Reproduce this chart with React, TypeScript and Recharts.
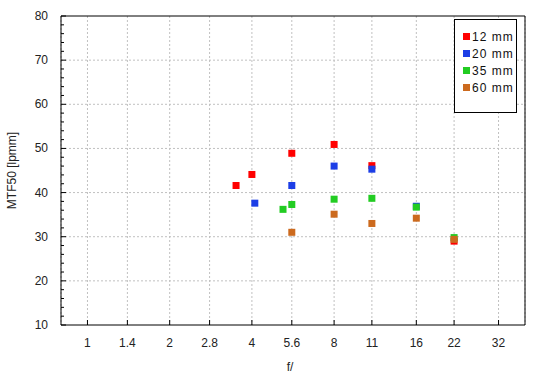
import {
  ScatterChart,
  Scatter,
  XAxis,
  YAxis,
  CartesianGrid,
  ReferenceArea,
  Legend,
} from 'recharts';

// ── data ──────────────────────────────────────────────────────────
const fTicks = [1, 1.4, 2, 2.8, 4, 5.6, 8, 11, 16, 22, 32];
const mtfTicks = [10, 12, 14, 16, 18, 20, 22, 24, 26, 28, 30, 32, 34, 36, 38, 40, 42, 44, 46, 48, 50, 52, 54, 56, 58, 60, 62, 64, 66, 68, 70, 72, 74, 76, 78, 80];
const mtfGrid = [20, 30, 40, 50, 60, 70];

const f12 = [3.5, 4, 5.6, 8, 11, 22];
const mtf12 = [41.6, 44.1, 48.9, 50.9, 46.1, 29.0];

const f20 = [4.1, 5.6, 8, 11, 16];
const mtf20 = [37.6, 41.6, 46.0, 45.3, 36.9];

const f35 = [5.2, 5.6, 8, 11, 16, 22];
const mtf35 = [36.2, 37.3, 38.5, 38.7, 36.7, 29.8];

const f60 = [5.6, 8, 11, 16, 22];
const mtf60 = [31.0, 35.1, 33.0, 34.2, 29.4];

const seriesNames = ['12 mm', '20 mm', '35 mm', '60 mm'];
const seriesColors = ['#ff0000', '#1c3ee6', '#22cc22', '#cc6a1e'];

const toPoints = (fs: number[], vs: number[]) => fs.map((f, i) => ({ f, mtf: vs[i] }));
const seriesData = [
  toPoints(f12, mtf12),
  toPoints(f20, mtf20),
  toPoints(f35, mtf35),
  toPoints(f60, mtf60),
];

const FONT = 'Arial, "Liberation Sans", sans-serif';

// ── custom pieces ─────────────────────────────────────────────────
function SquareDot(props: any) {
  const { cx, cy, fill } = props;
  if (cx == null || cy == null) return null;
  return <rect x={cx - 3.5} y={cy - 3.5} width={7} height={7} fill={fill} />;
}

function YTick({ x, y, payload }: any) {
  const major = payload.value % 10 === 0;
  return (
    <g>
      <line x1={x} y1={y} x2={x + (major ? 5 : 3)} y2={y} stroke="#000" />
      {major && (
        <text x={x - 13} y={y} textAnchor="end" dominantBaseline="central" fontSize={12} fill="#222" fontFamily={FONT}>
          {payload.value}
        </text>
      )}
    </g>
  );
}

function XTick({ x, y, payload }: any) {
  return (
    <g>
      <line x1={x} y1={y} x2={x} y2={y - 5} stroke="#000" />
      <text x={x} y={y + 18} textAnchor="middle" dominantBaseline="central" fontSize={12} fill="#222" fontFamily={FONT}>
        {payload.value}
      </text>
    </g>
  );
}

function LegendBox() {
  return (
    <div
      style={{
        border: '1px solid #000',
        background: '#fff',
        width: 61,
        height: 84,
        boxSizing: 'content-box',
        paddingTop: 8,
        fontFamily: FONT,
        fontSize: 12,
        color: '#111',
      }}
    >
      {seriesNames.map((name, i) => (
        <div key={name} style={{ display: 'flex', alignItems: 'center', height: 17, paddingLeft: 8 }}>
          <span style={{ width: 7, height: 7, background: seriesColors[i], marginRight: 2 }} />
          <span style={{ letterSpacing: 1 }}>{name}</span>
        </div>
      ))}
    </div>
  );
}

// ── chart ─────────────────────────────────────────────────────────
export default function App() {
  return (
    <div style={{ position: 'absolute', left: 0, top: 0, width: 550, height: 380, background: '#fff' }}>
      <ScatterChart width={550} height={380} margin={{ top: 16, right: 25, bottom: 0, left: 0 }}>
        <CartesianGrid stroke="#c0c0c0" strokeDasharray="2 2" horizontalValues={mtfGrid} />
        <XAxis
          dataKey="f"
          type="number"
          scale="log"
          domain={[0.8, 40]}
          ticks={fTicks}
          interval={0}
          allowDataOverflow
          height={55}
          tickSize={0}
          tickMargin={0}
          tickLine={false}
          axisLine={false}
          tick={<XTick />}
          label={{
            content: ({ viewBox }: any) => (
              <text x={viewBox.x + viewBox.width / 2 - 3} y={367} textAnchor="middle" dominantBaseline="central" fontSize={12} fill="#222" fontFamily={FONT}>
                f/
              </text>
            ),
          }}
        />
        <YAxis
          dataKey="mtf"
          type="number"
          domain={[10, 80]}
          ticks={mtfTicks}
          interval={0}
          allowDataOverflow
          width={61}
          tickSize={0}
          tickMargin={0}
          tickLine={false}
          axisLine={false}
          tick={<YTick />}
          label={{
            content: ({ viewBox }: any) => {
              const cy = viewBox.y + viewBox.height / 2;
              return (
                <text x={12} y={cy} transform={`rotate(-90 12 ${cy})`} textAnchor="middle" dominantBaseline="central" fontSize={12} fill="#222" fontFamily={FONT}>
                  MTF50 [lpmm]
                </text>
              );
            },
          }}
        />
        <ReferenceArea x1={0.8} x2={40} y1={10} y2={80} fill="none" stroke="#000" strokeWidth={1} fillOpacity={0} ifOverflow="visible" />
        {seriesData.map((pts, i) => (
          <Scatter
            key={seriesNames[i]}
            name={seriesNames[i]}
            data={pts}
            fill={seriesColors[i]}
            shape={<SquareDot />}
            isAnimationActive={false}
          />
        ))}
        <Legend
          layout="vertical"
          align="center"
          verticalAlign="middle"
          wrapperStyle={{ left: 454, top: 19, width: 63, height: 86 }}
          content={() => <LegendBox />}
        />
      </ScatterChart>
    </div>
  );
}
